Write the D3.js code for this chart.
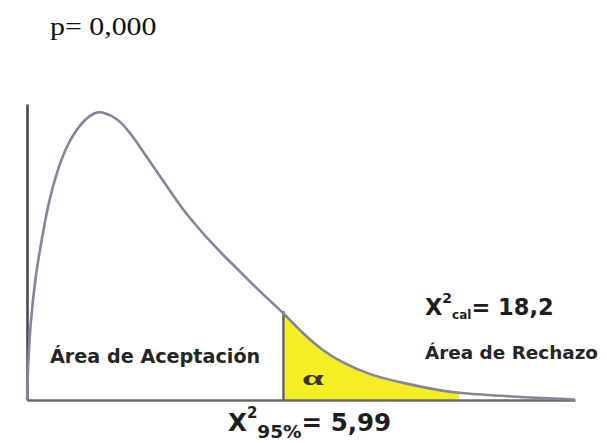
<!DOCTYPE html>
<html><head><meta charset="utf-8">
<script src="https://cdn.jsdelivr.net/npm/d3@7"></script>
<style>html,body{margin:0;padding:0;background:#fff;}svg{display:block;}</style>
</head><body>
<svg id="chart" width="607" height="443"></svg>
<script>
// Curve (x in chi-square units, y in density units)
const curveX = [0, 0.02, 0.07, 0.19, 0.35, 0.49, 0.72, 0.96, 1.28, 1.59, 1.78, 2.10, 2.41, 2.71, 3.04, 3.34, 3.64, 3.97, 4.27, 4.58, 4.91, 5.21, 5.51, 5.84, 5.99, 6.45, 6.91, 7.38, 8.01, 8.78, 9.58, 10.04, 11.12, 11.91, 12.68, 12.8];
const curveY = [0, 0.030, 0.073, 0.124, 0.164, 0.198, 0.235, 0.261, 0.282, 0.292, 0.292, 0.286, 0.271, 0.252, 0.231, 0.212, 0.193, 0.176, 0.161, 0.147, 0.133, 0.120, 0.107, 0.094, 0.088, 0.067, 0.050, 0.0375, 0.0253, 0.0172, 0.0101, 0.0071, 0.0041, 0.0020, 0.0010, 0.0005];
const xDomain = [0, 12.8];
const yDomain = [0, 0.30];
const criticalValue = 5.99;
const shadeEnd = 10.1;
const pLabel = "p= 0,000";
const acceptLabel = "Área de Aceptación";
const rejectLabel = "Área de Rechazo";
const calcLabel = ["X", "2", "cal", "= 18,2"];
const critLabel = ["X", "2", "95%", "= 5,99"];
const alphaLabel = "α";

const svg = d3.select("#chart");
const x = d3.scaleLinear().domain(xDomain).range([27, 575]);
const y = d3.scaleLinear().domain(yDomain).range([400, 104]);

const pts = curveX.map((v, i) => ({x: v, y: curveY[i]}));
const curveType = d3.curveBasis;

// clip for the shaded rejection area
svg.append("clipPath").attr("id", "shadeClip")
  .append("rect")
  .attr("x", x(criticalValue)).attr("y", y(yDomain[1]))
  .attr("width", x(shadeEnd) - x(criticalValue))
  .attr("height", y(0) - y(yDomain[1]));

svg.append("path")
  .datum(pts)
  .attr("clip-path", "url(#shadeClip)")
  .attr("fill", "#f4ee22")
  .attr("d", d3.area().x(d => x(d.x)).y0(y(0)).y1(d => y(d.y)).curve(curveType));

// axes (no ticks)
svg.append("g").attr("transform", `translate(0,${y(0)})`)
  .call(d3.axisBottom(x).tickValues([]).tickSizeOuter(0))
  .call(g => g.select(".domain").attr("stroke", "#6a6a6e").attr("stroke-width", 2.6));
svg.append("g").attr("transform", `translate(${x(0)},0)`)
  .call(d3.axisLeft(y).tickValues([]).tickSizeOuter(0))
  .call(g => g.select(".domain").attr("stroke", "#4a4a4a").attr("stroke-width", 2.6));

// critical line
const critY = curveY[curveX.indexOf(criticalValue)];
svg.append("line")
  .attr("x1", x(criticalValue)).attr("x2", x(criticalValue))
  .attr("y1", y(0)).attr("y2", y(critY) - 2)
  .attr("stroke", "#5f5f62").attr("stroke-width", 2.4);

// density curve
svg.append("path")
  .datum(pts)
  .attr("fill", "none")
  .attr("stroke", "#85849a")
  .attr("stroke-width", 2.6)
  .attr("d", d3.line().x(d => x(d.x)).y(d => y(d.y)).curve(curveType));

// texts
svg.append("text").attr("transform", "translate(50,35) scale(1.15,1)")
  .attr("font-family", "'Liberation Serif','Times New Roman',serif")
  .attr("font-size", 26).attr("fill", "#111").text(pLabel);

const sans = "'DejaVu Sans',Verdana,sans-serif";
svg.append("text").attr("x", 50).attr("y", 363)
  .attr("font-family", sans).attr("font-weight", "bold")
  .attr("font-size", 19.2).attr("fill", "#262626").text(acceptLabel);
svg.append("text").attr("x", 425).attr("y", 359)
  .attr("font-family", sans).attr("font-weight", "bold")
  .attr("font-size", 18.4).attr("fill", "#262626").text(rejectLabel);

function chiLabel(parts, xPos, base, size, supSize, supBase, subSize, subBase) {
  const t = svg.append("text").attr("x", xPos).attr("y", base)
    .attr("font-family", sans).attr("font-weight", "bold")
    .attr("font-size", size).attr("fill", "#1e1e1e");
  t.append("tspan").text(parts[0]);
  t.append("tspan").attr("font-size", supSize).attr("dy", supBase - base).text(parts[1]);
  t.append("tspan").attr("font-size", subSize).attr("dy", subBase - supBase).text(parts[2]);
  t.append("tspan").attr("dy", base - subBase).text(parts[3]);
}
chiLabel(calcLabel, 425, 315, 22.5, 14, 303, 12, 319);
chiLabel(critLabel, 228, 431, 24.5, 15, 418, 18.5, 438);

// alpha
svg.append("text")
  .attr("transform", `translate(302,385) scale(1.85,1)`)
  .attr("font-family", "'Liberation Serif','Times New Roman',serif")
  .attr("font-weight", "bold").attr("font-size", 21).attr("fill", "#35352a")
  .text(alphaLabel);
</script>
</body></html>
